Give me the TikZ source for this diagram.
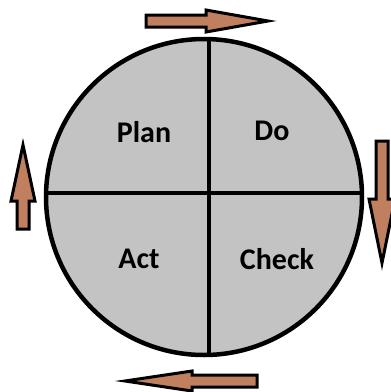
\documentclass[tikz,border=0pt]{standalone}
\usepackage{fontspec}
\setmainfont{Carlito}
\usepackage{tikz}
\definecolor{arrowbrown}{RGB}{192,128,96}
\definecolor{wheelgray}{RGB}{195,195,195}
\tikzset{
  wheelS/.style ={draw=black, fill=wheelgray, line width=4.5pt},
  crossS/.style ={black, line width=3.5pt},
  arrowS/.style ={draw=black, fill=arrowbrown, line width=3pt, line join=miter},
  stage/.style  ={font=\fontsize{30}{34}\selectfont\bfseries, inner sep=0pt},
}
\begin{document}
\begin{tikzpicture}[x=1pt,y=-1pt]
  \useasboundingbox (0,0) rectangle (391,392);
  \draw[wheelS] (204,197) circle (158);
  \draw[crossS] (209,39) -- (209,355);
  \draw[crossS] (47,193) -- (361,193);
  \node[stage] (plan)  at (144,132) {Plan};
  \node[stage] (do)    at (272,131) {Do};
  \node[stage] (act)   at (139,259) {Act};
  \node[stage] (check) at (277,259) {Check};
  % top arrow, pointing right
  \draw[arrowS] (146,15) -- (206,15) -- (206,10) -- (268,21) -- (206,32) -- (206,27) -- (146,27) -- cycle;
  % right arrow, pointing down
  \draw[arrowS] (376,141) -- (376,199) -- (369,199) -- (382,263) -- (395,199) -- (388,199) -- (388,141) -- cycle;
  % bottom arrow, pointing left
  \draw[arrowS] (257,375) -- (192,375) -- (192,371) -- (125,381) -- (192,391) -- (192,387) -- (257,387) -- cycle;
  % left arrow, pointing up
  \draw[arrowS] (17,229) -- (17,201) -- (11,201) -- (23,145) -- (35,201) -- (29,201) -- (29,229) -- cycle;
\end{tikzpicture}
\end{document}
